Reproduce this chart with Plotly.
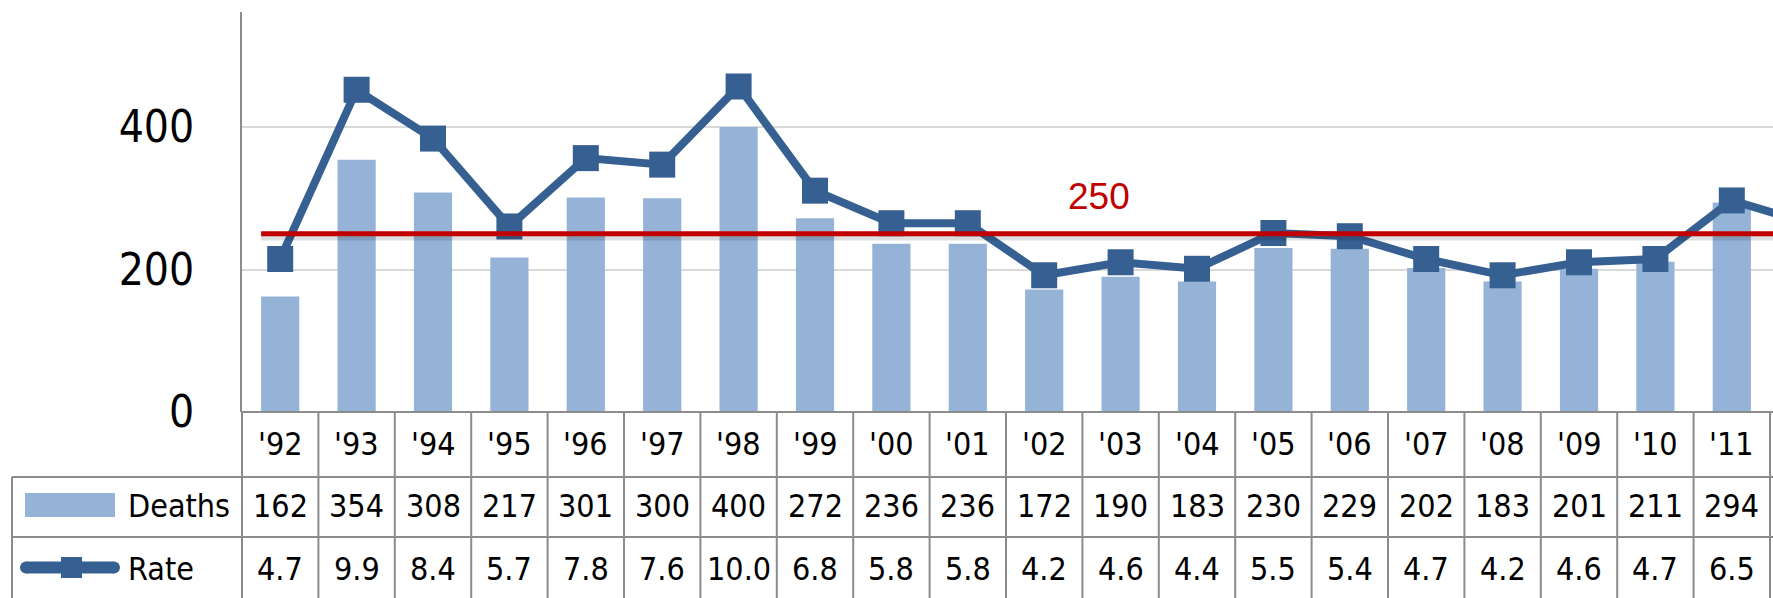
import plotly.graph_objects as go

# ---------------- data ----------------
years = ["'92", "'93", "'94", "'95", "'96", "'97", "'98", "'99", "'00", "'01",
         "'02", "'03", "'04", "'05", "'06", "'07", "'08", "'09", "'10", "'11", "'12"]
deaths = [162, 354, 308, 217, 301, 300, 400, 272, 236, 236,
          172, 190, 183, 230, 229, 202, 183, 201, 211, 294, None]
rates = [4.7, 9.9, 8.4, 5.7, 7.8, 7.6, 10.0, 6.8, 5.8, 5.8,
         4.2, 4.6, 4.4, 5.5, 5.4, 4.7, 4.2, 4.6, 4.7, 6.5, 5.8]
visible_cols = 20          # '12 column is cut off at the right edge
threshold = 250
threshold_label = "250"
y_ticks = [0, 200, 400]
series_names = ["Deaths", "Rate"]

# ---------------- style / layout ----------------
W, H = 1773, 598
ML, MR, MT, MB = 242, 0, 12, 186
PW, PH = W - ML - MR, H - MT - MB
COL_W = 76.4
BAR_COLOR = "#95B3D7"
LINE_COLOR = "#376092"
GRID = "#D9D9D9"
BORDER = "#8C8C8C"
RED = "#C00000"
FONT = "Tahoma, 'DejaVu Sans Condensed', 'Liberation Sans', Arial, sans-serif"

def px_x(p):
    return (p - ML) / PW

def px_y(p):
    return (MT + PH - p) / PH

x_idx = list(range(len(years)))

fig = go.Figure()
fig.add_trace(go.Bar(x=x_idx, y=deaths, marker=dict(color=BAR_COLOR, line=dict(width=0)),
                     name=series_names[0], yaxis="y"))
fig.add_trace(go.Scatter(x=x_idx, y=rates, mode="lines+markers", name=series_names[1],
                         line=dict(color=LINE_COLOR, width=8),
                         marker=dict(symbol="square", size=26, color=LINE_COLOR),
                         yaxis="y2", cliponaxis=True))

y_max = PH / 0.7125          # deaths units visible
y2_max = PH / 32.55          # rate units visible

shapes = []
annotations = []

# threshold line (with soft shadow)
shapes.append(dict(type="line", xref="x", yref="y", x0=-0.25, x1=len(years), y0=threshold - 4.5,
                   y1=threshold - 4.5, line=dict(color="rgba(0,0,0,0.13)", width=7), layer="above"))
shapes.append(dict(type="line", xref="x", yref="y", x0=-0.25, x1=len(years), y0=threshold,
                   y1=threshold, line=dict(color=RED, width=5), layer="above"))
annotations.append(dict(xref="x", yref="y", x=10.72, y=threshold, yshift=37, text=threshold_label,
                        showarrow=False, xanchor="center", yanchor="middle",
                        font=dict(family="'Liberation Sans', Arial, sans-serif", size=37, color=RED)))

# ---------------- data table ----------------
row1_bot = px_y(477)
row2_bot = px_y(537)
tbl_bot = px_y(640)
left_b = px_x(12)

# x-axis / top of table
shapes.append(dict(type="line", xref="paper", yref="paper", x0=0, x1=1, y0=0, y1=0,
                   line=dict(color=BORDER, width=2), layer="above"))
# axis line continuing down the table
shapes.append(dict(type="line", xref="paper", yref="paper", x0=0, x1=0, y0=0, y1=tbl_bot,
                   line=dict(color=BORDER, width=2), layer="above"))
# column separators
for i in range(1, len(years)):
    shapes.append(dict(type="line", xref="x", yref="paper", x0=i - 0.5, x1=i - 0.5, y0=0, y1=tbl_bot,
                       line=dict(color=BORDER, width=2), layer="above"))
# row separators
for yy in (row1_bot, row2_bot):
    shapes.append(dict(type="line", xref="paper", yref="paper", x0=left_b, x1=1, y0=yy, y1=yy,
                       line=dict(color=BORDER, width=2), layer="above"))
# left border
shapes.append(dict(type="line", xref="paper", yref="paper", x0=left_b, x1=left_b, y0=row1_bot, y1=tbl_bot,
                   line=dict(color=BORDER, width=2), layer="above"))

# legend keys
shapes.append(dict(type="rect", xref="paper", yref="paper", x0=px_x(25), x1=px_x(115),
                   y0=px_y(517), y1=px_y(493), fillcolor=BAR_COLOR, line=dict(width=0)))
shapes.append(dict(type="line", xref="paper", yref="paper", x0=px_x(26), x1=px_x(114),
                   y0=px_y(567.5), y1=px_y(567.5), line=dict(color=LINE_COLOR, width=12)))
for cx in (26, 114):
    shapes.append(dict(type="circle", xref="paper", yref="paper", x0=px_x(cx - 6), x1=px_x(cx + 6),
                       y0=px_y(573.5), y1=px_y(561.5), fillcolor=LINE_COLOR, line=dict(width=0)))
shapes.append(dict(type="rect", xref="paper", yref="paper", x0=px_x(61), x1=px_x(82),
                   y0=px_y(578), y1=px_y(557), fillcolor=LINE_COLOR, line=dict(width=0)))

tfont = dict(family=FONT, size=32, color="#000000")
annotations.append(dict(xref="paper", yref="paper", x=px_x(126), y=px_y(506), text=series_names[0],
                        showarrow=False, xanchor="left", yanchor="middle", font=tfont))
annotations.append(dict(xref="paper", yref="paper", x=px_x(126), y=px_y(569), text=series_names[1],
                        showarrow=False, xanchor="left", yanchor="middle", font=tfont))

for i in range(visible_cols):
    annotations.append(dict(xref="x", yref="paper", x=i, y=px_y(444), text=years[i], showarrow=False,
                            xanchor="center", yanchor="middle", font=tfont))
    annotations.append(dict(xref="x", yref="paper", x=i, y=px_y(506), text=str(deaths[i]),
                            showarrow=False, xanchor="center", yanchor="middle", font=tfont))
    annotations.append(dict(xref="x", yref="paper", x=i, y=px_y(569), text=f"{rates[i]:.1f}",
                            showarrow=False, xanchor="center", yanchor="middle", font=tfont))

fig.update_layout(
    width=W, height=H,
    margin=dict(l=ML, r=MR, t=MT, b=MB, pad=0),
    paper_bgcolor="white", plot_bgcolor="white",
    showlegend=False,
    bargap=0.5,
    xaxis=dict(range=[-0.5, -0.5 + PW / COL_W], showticklabels=False, showgrid=False,
               zeroline=False, showline=False, ticks=""),
    yaxis=dict(range=[0, y_max], tickvals=y_ticks, ticktext=[str(v) for v in y_ticks],
               showgrid=True, gridcolor=GRID, gridwidth=2, zeroline=False,
               showline=True, linecolor=BORDER, linewidth=2, ticks="",
               ticklabelstandoff=37,
               tickfont=dict(family=FONT, size=44, color="#000000")),
    yaxis2=dict(range=[0, y2_max], overlaying="y", side="right", visible=False),
    shapes=shapes,
    annotations=annotations,
)

fig.write_html("out.html", config={"displayModeBar": False},
               post_script="document.body.style.margin='0';document.body.style.overflow='hidden';")
